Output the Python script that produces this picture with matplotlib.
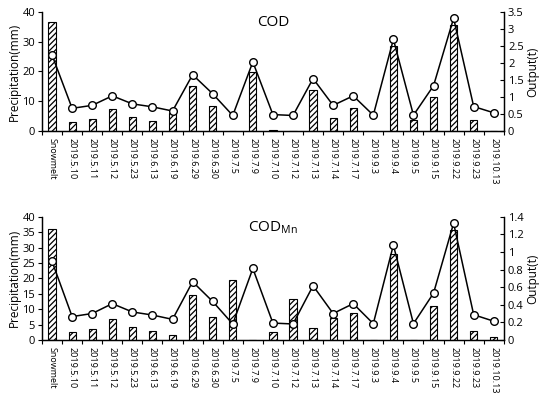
import numpy as np
import matplotlib
matplotlib.use("Agg")
import matplotlib.pyplot as plt
from matplotlib.ticker import FormatStrFormatter, MultipleLocator, FixedLocator

plt.rcParams['font.family'] = ['Open Sans', 'DejaVu Sans']
plt.rcParams['hatch.linewidth'] = 0.9

dates = ['Snowmelt', '2019.5.10', '2019.5.11', '2019.5.12', '2019.5.23', '2019.6.13',
         '2019.6.19', '2019.6.29', '2019.6.30', '2019.7.5', '2019.7.9', '2019.7.10',
         '2019.7.12', '2019.7.13', '2019.7.14', '2019.7.17', '2019.9.3', '2019.9.4',
         '2019.9.5', '2019.9.15', '2019.9.22', '2019.9.23', '2019.10.13']

# precipitation (line, left axis) - same in both panels
precip = [25.5, 7.6, 8.6, 11.8, 9.1, 8.1, 6.7, 18.9, 12.5, 5.2, 23.2, 5.5,
          5.2, 17.6, 8.6, 11.8, 5.3, 30.8, 5.3, 15.2, 37.9, 8.2, 6.1]

# output (bars, right axis)
cod_out = [3.21, 0.25, 0.35, 0.66, 0.40, 0.29, 0.52, 1.32, 0.72, 0.01, 1.72, 0.02,
           0.01, 1.19, 0.37, 0.67, 0.01, 2.49, 0.33, 0.99, 3.13, 0.33, 0.01]
codmn_out = [1.257, 0.088, 0.125, 0.242, 0.144, 0.102, 0.053, 0.515, 0.265, 0.68, 0.005, 0.091,
             0.465, 0.133, 0.253, 0.306, 0.0, 0.973, 0.0, 0.382, 1.248, 0.106, 0.034]

fig = plt.figure(figsize=(5.5, 3.98), dpi=100)

panels = [
    dict(rect=[0.0764, 0.671, 0.8396, 0.299], bars=cod_out, title='COD',
         lstep=10, rmax=3.5, rstep=0.5),
    dict(rect=[0.0764, 0.1457, 0.8396, 0.3098], bars=codmn_out, title='COD$_{\\mathregular{Mn}}$',
         lstep=5, rmax=1.4, rstep=0.2),
]

x = np.arange(len(dates))
for p in panels:
    ax = fig.add_axes(p['rect'])
    ax2 = ax.twinx()
    ax2.bar(x, p['bars'], width=0.36, color='white', edgecolor='black',
            hatch='//////', linewidth=0.8)
    ax.plot(x, precip, color='black', lw=1.1, marker='o', ms=5.5,
            mfc='white', mec='black', mew=1.0, zorder=3)
    ax.set_zorder(ax2.get_zorder() + 1)
    ax.patch.set_visible(False)

    ax.set_xlim(-0.5, len(dates) - 0.5)
    ax.set_ylim(0, 40)
    ax.yaxis.set_major_locator(MultipleLocator(p['lstep']))
    ax2.set_ylim(0, p['rmax'])
    ax2.yaxis.set_major_locator(MultipleLocator(p['rstep']))
    ax2.yaxis.set_major_formatter(FormatStrFormatter('%g'))

    ax.set_xticks(x)
    ax.set_xticklabels(dates, rotation=-90, fontsize=6.5)
    ax.xaxis.set_minor_locator(FixedLocator(np.arange(-0.5, len(dates), 1)))
    ax.tick_params(axis='x', which='major', length=0, pad=5)
    ax.tick_params(axis='x', which='minor', length=3, direction='out', width=0.8)
    ax.tick_params(axis='y', labelsize=8, length=3, width=0.8, pad=2)
    ax2.tick_params(axis='y', labelsize=8, length=3, width=0.8, direction='in', pad=3)

    for a in (ax, ax2):
        a.spines['top'].set_visible(False)
        for s in ('left', 'right', 'bottom'):
            a.spines[s].set_linewidth(0.9)

    ax.set_ylabel('Precipitation(mm)', fontsize=8.5, labelpad=1)
    ax2.set_ylabel('Output(t)', fontsize=8.5, labelpad=2)
    ax.text(0.5, 0.91, p['title'], transform=ax.transAxes, ha='center', va='center',
            fontsize=11)

fig.savefig('out.png', dpi=100)
